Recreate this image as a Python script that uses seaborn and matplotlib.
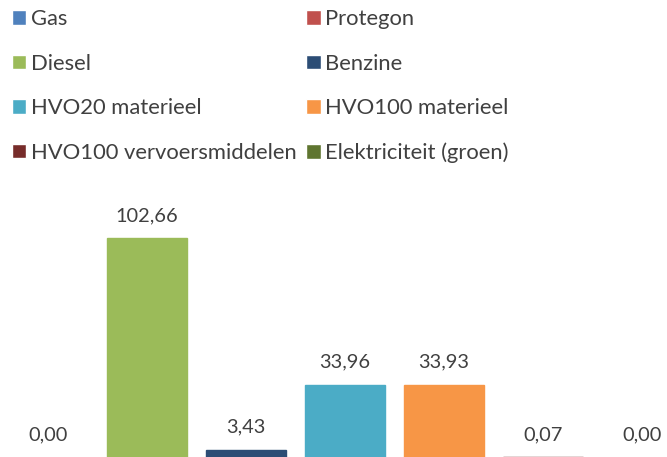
import pandas as pd
import matplotlib.pyplot as plt
import seaborn as sns

fuels = ["Gas", "Protegon", "Diesel", "Benzine", "HVO20 materieel",
         "HVO100 materieel", "HVO100 vervoersmiddelen", "Elektriciteit (groen)"]
values = [0.00, 0.00, 102.66, 3.43, 33.96, 33.93, 0.07, 0.00]
colors = ["#4F81BD", "#C0504D", "#9BBB59", "#2C4D75",
          "#4BACC6", "#F79646", "#772C2A", "#5F7530"]

df = pd.DataFrame({"fuel": fuels, "value": values})

sns.set_style("white")
plt.rcParams["font.family"] = ["Lato", "DejaVu Sans"]

fig = plt.figure(figsize=(6.67, 4.57), dpi=100)
# plot area is wider than the picture: the first slot (Gas) falls off the left edge
ax = fig.add_axes([-100.5 / 667, 0, 792 / 667, 287 / 457])

sns.barplot(data=df, x="fuel", y="value", hue="fuel", palette=colors,
            saturation=1, dodge=False, width=0.81, legend=True, ax=ax)

# thin outline so tiny non-zero bars (0,07) still show as a line
for p in ax.patches:
    if p.get_height() > 0:
        p.set_edgecolor(p.get_facecolor())
        p.set_linewidth(1)

# skip the Gas label, it sits outside the visible area
for cont in ax.containers[1:]:
    ax.bar_label(cont, labels=[f"{v:.2f}".replace(".", ",") for v in cont.datavalues],
                 padding=10, fontsize=14.4, color="#404040")

ax.set_xlim(-0.5, 7.5)
ax.set_ylim(0, 134.5)
ax.axis("off")

handles, labels = ax.get_legend_handles_labels()
ax.get_legend().remove()
# legend reads row by row, matplotlib fills columns first
order = [0, 2, 4, 6, 1, 3, 5, 7]
fig.legend([handles[i] for i in order], [labels[i] for i in order], ncol=2,
           loc="upper left", bbox_to_anchor=(12 / 667, 1 - 9 / 457), frameon=False,
           fontsize=15.8, labelcolor="#404040", borderpad=0, borderaxespad=0,
           handlelength=0.65, handleheight=0.65, handletextpad=0.2,
           columnspacing=0.45, labelspacing=1.12)

plt.savefig("out.png", dpi=100)
